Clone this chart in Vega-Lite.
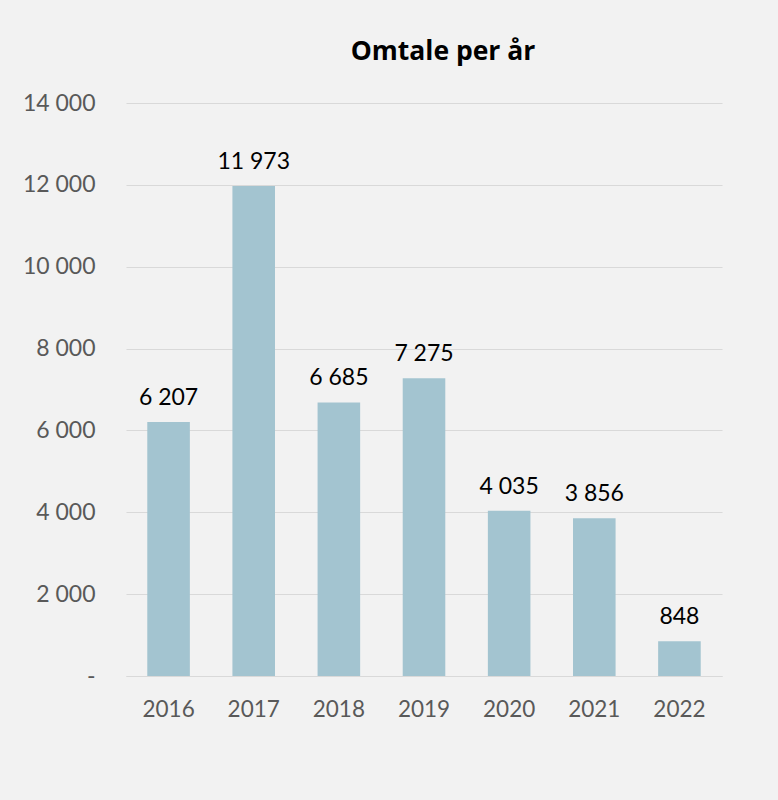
{
  "$schema": "https://vega.github.io/schema/vega-lite/v6.json",
  "autosize": {"type": "none"},
  "padding": {"left": 126, "top": 103, "right": 56, "bottom": 124},
  "width": 596,
  "height": 573,
  "background": "#f2f2f2",
  "config": {
    "view": {"stroke": null},
    "locale": {"number": {"decimal": ",", "thousands": " ", "grouping": [3], "currency": ["", ""]}},
    "font": "Lato"
  },
  "title": {
    "text": "Omtale per år",
    "font": "Open Sans",
    "fontSize": 26.5,
    "fontWeight": "bold",
    "color": "#000000",
    "anchor": "middle",
    "dx": 19,
    "offset": 27
  },
  "data": {
    "values": [
      {"year": "2016", "count": 6207},
      {"year": "2017", "count": 11973},
      {"year": "2018", "count": 6685},
      {"year": "2019", "count": 7275},
      {"year": "2020", "count": 4035},
      {"year": "2021", "count": 3856},
      {"year": "2022", "count": 848}
    ]
  },
  "encoding": {
    "x": {
      "field": "year",
      "type": "nominal",
      "scale": {"paddingInner": 0.5, "paddingOuter": 0.25},
      "axis": {
        "title": null,
        "labelAngle": 0,
        "labelFont": "Lato",
        "labelFontSize": 22.5,
        "labelColor": "#595959",
        "ticks": false,
        "labelPadding": 22,
        "domainColor": "#d9d9d9",
        "domainWidth": 1,
        "grid": false
      }
    },
    "y": {
      "field": "count",
      "type": "quantitative",
      "scale": {"domain": [0, 14000]},
      "axis": {
        "title": null,
        "values": [0, 2000, 4000, 6000, 8000, 10000, 12000, 14000],
        "labelExpr": "datum.value == 0 ? '-' : format(datum.value, ',d')",
        "labelFont": "Lato",
        "labelFontSize": 23,
        "labelColor": "#595959",
        "ticks": false,
        "domain": false,
        "labelPadding": 31,
        "gridColor": "#d9d9d9",
        "gridWidth": 1
      }
    }
  },
  "layer": [
    {"mark": {"type": "bar", "color": "#a3c4d0"}},
    {
      "mark": {"type": "text", "baseline": "bottom", "dy": -12, "fontSize": 23, "font": "Lato", "color": "#000000"},
      "encoding": {"text": {"field": "count", "type": "quantitative", "format": ",d"}}
    }
  ]
}
